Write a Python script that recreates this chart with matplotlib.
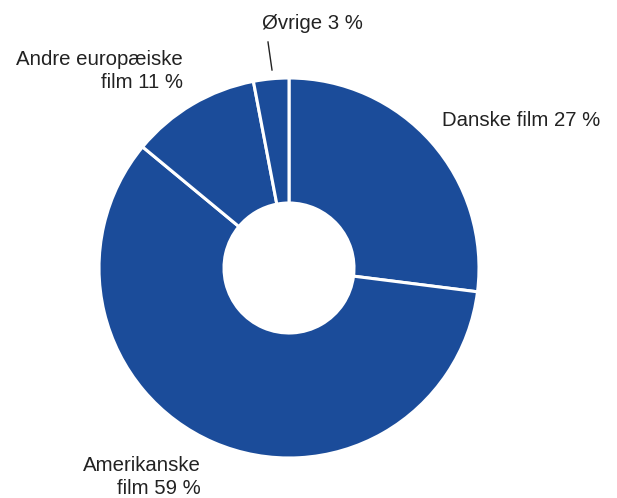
import matplotlib
matplotlib.use("Agg")
import matplotlib.pyplot as plt

# andele af filmudbuddet
kategorier = ["Danske film", "Amerikanske film", "Andre europæiske film", "Øvrige"]
andele = [27, 59, 11, 3]
etiketter = ["Danske film 27 %", "Amerikanske\nfilm 59 %", "Andre europæiske\nfilm 11 %", "Øvrige 3 %"]

H = 498
fig = plt.figure(figsize=(6.17, 4.98), dpi=100)
ax = fig.add_axes([0, 0, 1, 1])

blaa = "#1b4c9a"
ax.pie(andele, startangle=90, counterclock=False, center=(289, H - 268), radius=190,
       colors=[blaa] * len(andele),
       wedgeprops=dict(width=125, edgecolor="white", linewidth=2.2))

ax.set_xlim(0, 617)
ax.set_ylim(0, H)
ax.set_aspect("equal")
ax.axis("off")

plt.rcParams["font.family"] = ["Liberation Sans", "DejaVu Sans"]
tf = dict(fontsize=14.7, color="#222222", va="baseline", linespacing=1.25)

# baseline = sidste linjes grundlinje
ax.text(442, H - 126, etiketter[0], ha="left", **tf)
ax.text(201, H - 494, etiketter[1], ha="right", multialignment="right", **tf)
ax.text(183, H - 88, etiketter[2], ha="right", multialignment="right", **tf)
ax.text(312, H - 29, etiketter[3], ha="center", **tf)

# streg til Øvrige
ax.plot([268, 272], [H - 42, H - 70], color="#222222", lw=1)

fig.savefig("out.png", dpi=100)
